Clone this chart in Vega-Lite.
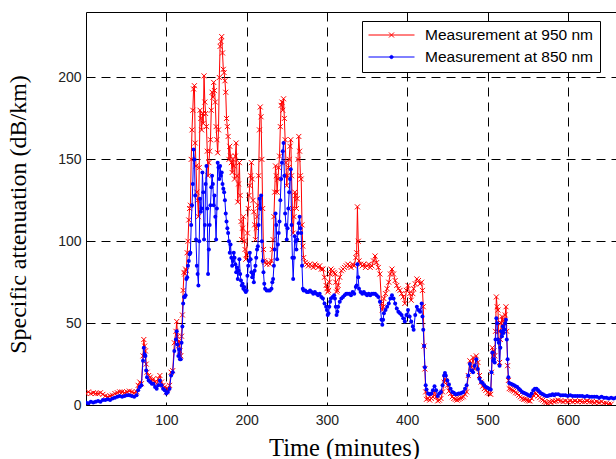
{
"$schema": "https://vega.github.io/schema/vega-lite/v6.json",
"width": 530, "height": 393,
"autosize": {"type": "none"},
"padding": {"left": 86, "top": 12, "right": 0, "bottom": 54},
"background": "white",
"config": {"view": {"stroke": "black", "strokeWidth": 1}},
"data": {"values": [
{"t":0,"r":7,"b":1.5},{"t":3,"r":8,"b":1},{"t":6,"r":7,"b":2},{"t":9,"r":7.5,"b":1.5},{"t":12,"r":7,"b":2},{"t":15,"r":7,"b":2.5},{"t":18,"r":7.5,"b":2},{"t":21,"r":6.5,"b":3},{"t":24,"r":5.5,"b":3},{"t":27,"r":5,"b":3.5},{"t":30,"r":5.5,"b":3},{"t":33,"r":6,"b":4},{"t":36,"r":7,"b":4.5},{"t":39,"r":7.5,"b":5},{"t":42,"r":8,"b":5.5},{"t":45,"r":8,"b":5},{"t":48,"r":7.5,"b":5.5},{"t":51,"r":8,"b":6},{"t":54,"r":8.5,"b":6},{"t":57,"r":8,"b":5.5},{"t":60,"r":7.5,"b":5},{"t":63,"r":8,"b":6},
{"t":65,"r":12,"b":9},{"t":67,"r":14,"b":11},{"t":69,"r":13,"b":12},{"t":71,"r":30,"b":27},{"t":72,"r":40,"b":35},{"t":73,"r":36,"b":31},{"t":74,"r":33,"b":30},{"t":75,"r":25,"b":21},{"t":76,"r":20,"b":17},{"t":78,"r":18,"b":15},{"t":80,"r":17,"b":14},{"t":82,"r":15,"b":13},{"t":84,"r":16,"b":13},{"t":86,"r":14,"b":11},{"t":88,"r":13,"b":10},{"t":90,"r":16,"b":12},{"t":92,"r":18,"b":15},{"t":94,"r":14,"b":12},{"t":96,"r":12,"b":10},{"t":98,"r":11,"b":9},{"t":100,"r":8,"b":7},{"t":102,"r":10,"b":8},{"t":104,"r":12,"b":10},{"t":106,"r":20,"b":18},{"t":108,"r":21,"b":20},{"t":110,"r":38,"b":33},{"t":112,"r":45,"b":40},{"t":113,"r":51,"b":45},{"t":114,"r":42,"b":37},{"t":115,"r":36,"b":30},{"t":116,"r":39,"b":34},{"t":117,"r":33,"b":28},{"t":118,"r":30,"b":28},{"t":119,"r":42,"b":38},
{"t":120,"r":55,"b":48},{"t":121,"r":70,"b":62},{"t":122,"r":81,"b":66},{"t":123,"r":80,"b":66},{"t":124,"r":83,"b":67},{"t":125,"r":82,"b":77},{"t":126,"r":93,"b":78},{"t":127,"r":100,"b":85},{"t":128,"r":113,"b":88},{"t":129,"r":120,"b":92},{"t":130,"r":122,"b":93},{"t":131,"r":150,"b":110},{"t":132,"r":168,"b":122},{"t":133,"r":180,"b":135},{"t":134,"r":193,"b":156},{"t":135,"r":195,"b":150},{"t":136,"r":160,"b":128},{"t":137,"r":146,"b":101},{"t":138,"r":130,"b":85},{"t":139,"r":125,"b":80},{"t":140,"r":115,"b":73},{"t":141,"r":145,"b":100},{"t":142,"r":180,"b":126},{"t":143,"r":175,"b":118},{"t":144,"r":168,"b":120},{"t":145,"r":178,"b":142},{"t":146,"r":172,"b":130},{"t":147,"r":201,"b":101},{"t":148,"r":185,"b":110},{"t":149,"r":178,"b":135},{"t":150,"r":170,"b":146},{"t":151,"r":155,"b":120},{"t":152,"r":140,"b":80},{"t":153,"r":148,"b":95},{"t":154,"r":155,"b":110},{"t":155,"r":162,"b":122},{"t":156,"r":180,"b":133},{"t":157,"r":191,"b":140},{"t":158,"r":188,"b":135},{"t":159,"r":197,"b":122},{"t":160,"r":192,"b":128},{"t":161,"r":185,"b":115},{"t":162,"r":170,"b":101},{"t":163,"r":162,"b":120},{"t":164,"r":154,"b":148},{"t":165,"r":168,"b":145},{"t":166,"r":200,"b":138},{"t":167,"r":219,"b":146},{"t":168,"r":222,"b":140},{"t":169,"r":225,"b":142},{"t":170,"r":215,"b":135},{"t":171,"r":205,"b":132},{"t":172,"r":203,"b":130},{"t":173,"r":198,"b":125},{"t":174,"r":191,"b":117},{"t":175,"r":175,"b":112},{"t":176,"r":170,"b":108},{"t":177,"r":164,"b":105},{"t":178,"r":150,"b":100},{"t":179,"r":158,"b":93},{"t":180,"r":152,"b":98},{"t":181,"r":148,"b":90},{"t":182,"r":142,"b":85},{"t":183,"r":150,"b":88},{"t":184,"r":146,"b":93},{"t":185,"r":138,"b":90},{"t":186,"r":152,"b":86},{"t":187,"r":160,"b":81},{"t":188,"r":140,"b":84},{"t":189,"r":124,"b":77},{"t":190,"r":135,"b":82},{"t":191,"r":148,"b":89},{"t":192,"r":128,"b":80},{"t":193,"r":112,"b":76},{"t":194,"r":101,"b":73},{"t":195,"r":108,"b":74},{"t":196,"r":115,"b":71},{"t":197,"r":100,"b":72},{"t":198,"r":95,"b":70},{"t":199,"r":89,"b":69},
{"t":200,"r":92,"b":70},{"t":201,"r":105,"b":79},{"t":202,"r":120,"b":85},{"t":203,"r":128,"b":88},{"t":204,"r":134,"b":93},{"t":205,"r":140,"b":89},{"t":206,"r":148,"b":81},{"t":207,"r":138,"b":78},{"t":208,"r":125,"b":80},{"t":209,"r":118,"b":75},{"t":210,"r":110,"b":82},{"t":211,"r":101,"b":85},{"t":212,"r":108,"b":90},{"t":213,"r":115,"b":95},{"t":214,"r":122,"b":97},{"t":215,"r":140,"b":110},{"t":216,"r":168,"b":126},{"t":217,"r":182,"b":120},{"t":218,"r":176,"b":128},{"t":219,"r":150,"b":100},{"t":220,"r":120,"b":88},{"t":221,"r":95,"b":81},{"t":222,"r":88,"b":74},{"t":223,"r":87,"b":71},{"t":225,"r":86,"b":70},{"t":227,"r":87,"b":70},{"t":229,"r":86,"b":70},{"t":231,"r":88,"b":71},{"t":232,"r":95,"b":75},{"t":233,"r":101,"b":77},{"t":234,"r":115,"b":85},{"t":235,"r":130,"b":95},{"t":236,"r":146,"b":117},{"t":237,"r":140,"b":110},{"t":238,"r":130,"b":89},{"t":239,"r":138,"b":98},{"t":240,"r":145,"b":105},{"t":241,"r":152,"b":112},{"t":242,"r":170,"b":125},{"t":243,"r":183,"b":138},{"t":244,"r":185,"b":148},{"t":245,"r":180,"b":155},{"t":246,"r":187,"b":160},{"t":247,"r":175,"b":140},{"t":248,"r":162,"b":117},{"t":249,"r":148,"b":110},{"t":250,"r":134,"b":101},{"t":251,"r":140,"b":108},{"t":252,"r":145,"b":120},{"t":253,"r":150,"b":130},{"t":254,"r":158,"b":138},{"t":255,"r":162,"b":144},{"t":256,"r":140,"b":110},{"t":257,"r":120,"b":90},{"t":258,"r":105,"b":77},{"t":259,"r":115,"b":90},{"t":260,"r":130,"b":103},{"t":261,"r":128,"b":100},{"t":262,"r":120,"b":95},{"t":263,"r":126,"b":101},{"t":264,"r":150,"b":105},{"t":265,"r":164,"b":111},{"t":266,"r":155,"b":115},{"t":267,"r":140,"b":108},{"t":268,"r":138,"b":105},{"t":269,"r":110,"b":85},{"t":270,"r":97,"b":71},{"t":271,"r":90,"b":70},{"t":273,"r":87,"b":70},{"t":275,"r":86,"b":69},{"t":277,"r":85,"b":69},{"t":279,"r":86,"b":70},{"t":281,"r":85,"b":69},{"t":283,"r":84,"b":68},{"t":285,"r":86,"b":69},{"t":287,"r":85,"b":68},{"t":289,"r":84,"b":67},{"t":291,"r":85,"b":68},{"t":293,"r":83,"b":66},{"t":295,"r":83,"b":65},{"t":297,"r":78,"b":62},{"t":299,"r":73,"b":60},
{"t":300,"r":71,"b":58},{"t":301,"r":69,"b":55},{"t":302,"r":70,"b":56},{"t":303,"r":75,"b":60},{"t":304,"r":80,"b":63},{"t":305,"r":83,"b":65},{"t":307,"r":82,"b":66},{"t":309,"r":81,"b":67},{"t":310,"r":80,"b":65},{"t":311,"r":75,"b":60},{"t":312,"r":69,"b":55},{"t":313,"r":70,"b":57},{"t":314,"r":73,"b":60},{"t":316,"r":78,"b":63},{"t":318,"r":82,"b":65},{"t":320,"r":83,"b":66},{"t":322,"r":84,"b":67},{"t":324,"r":85,"b":68},{"t":326,"r":86,"b":68},{"t":328,"r":85,"b":68},{"t":330,"r":84,"b":67},{"t":332,"r":86,"b":69},{"t":334,"r":85,"b":68},{"t":336,"r":90,"b":72},{"t":337,"r":93,"b":73},{"t":338,"r":121,"b":86},{"t":339,"r":100,"b":78},{"t":340,"r":88,"b":71},{"t":342,"r":86,"b":69},{"t":344,"r":85,"b":68},{"t":346,"r":86,"b":69},{"t":348,"r":84,"b":68},{"t":350,"r":85,"b":67},{"t":352,"r":86,"b":68},{"t":354,"r":84,"b":67},{"t":356,"r":85,"b":68},{"t":358,"r":88,"b":68},{"t":360,"r":91,"b":68},{"t":362,"r":87,"b":67},{"t":364,"r":84,"b":66},{"t":366,"r":80,"b":63},{"t":368,"r":62,"b":52},{"t":369,"r":58,"b":49},{"t":370,"r":60,"b":52},{"t":371,"r":65,"b":56},{"t":373,"r":68,"b":58},{"t":375,"r":71,"b":60},{"t":377,"r":75,"b":62},{"t":379,"r":80,"b":65},{"t":381,"r":83,"b":67},{"t":383,"r":80,"b":65},{"t":385,"r":76,"b":62},{"t":387,"r":73,"b":59},{"t":389,"r":71,"b":57},{"t":391,"r":70,"b":56},{"t":393,"r":68,"b":55},{"t":395,"r":66,"b":53},{"t":397,"r":62,"b":51},{"t":399,"r":70,"b":55},
{"t":401,"r":73,"b":58},{"t":403,"r":68,"b":54},{"t":405,"r":64,"b":51},{"t":407,"r":68,"b":48},{"t":408,"r":71,"b":46},{"t":410,"r":74,"b":55},{"t":412,"r":77,"b":60},{"t":414,"r":76,"b":58},{"t":416,"r":74,"b":57},{"t":418,"r":75,"b":62},{"t":419,"r":70,"b":54},{"t":420,"r":60,"b":46},{"t":421,"r":36,"b":36},{"t":422,"r":22,"b":23},{"t":423,"r":8,"b":12},{"t":424,"r":3.5,"b":9.5},{"t":426,"r":4,"b":7},{"t":428,"r":3,"b":6.5},{"t":430,"r":4,"b":7},{"t":432,"r":5,"b":9},{"t":434,"r":8,"b":11.5},{"t":436,"r":5,"b":9},{"t":438,"r":2.5,"b":5.5},{"t":440,"r":3,"b":7},{"t":442,"r":4,"b":8},{"t":444,"r":8,"b":12},{"t":446,"r":14,"b":18},{"t":447,"r":16,"b":19.5},{"t":448,"r":15,"b":18},{"t":450,"r":12,"b":15},{"t":452,"r":8.5,"b":12.5},{"t":454,"r":7,"b":10},{"t":456,"r":5,"b":8},{"t":458,"r":4,"b":7.5},{"t":460,"r":3.5,"b":6.5},{"t":462,"r":3,"b":6.5},{"t":464,"r":3.5,"b":7},{"t":466,"r":4,"b":7},{"t":468,"r":4.5,"b":7.5},{"t":470,"r":5,"b":8},{"t":472,"r":6.5,"b":10},{"t":474,"r":8,"b":12},{"t":476,"r":18,"b":18},{"t":478,"r":27,"b":25},{"t":480,"r":23,"b":21},{"t":482,"r":29,"b":20},{"t":484,"r":22,"b":24},{"t":486,"r":30,"b":28},{"t":488,"r":26,"b":22},{"t":490,"r":18,"b":16},{"t":492,"r":14,"b":14},{"t":494,"r":11.5,"b":13.5},{"t":496,"r":10,"b":12},{"t":498,"r":9,"b":11},
{"t":500,"r":7.5,"b":10.5},{"t":502,"r":7,"b":10},{"t":504,"r":6.5,"b":9.5},{"t":505,"r":20,"b":20},{"t":506,"r":35,"b":32},{"t":507,"r":30,"b":27},{"t":508,"r":33,"b":28},{"t":509,"r":30,"b":26},{"t":510,"r":45,"b":40},{"t":511,"r":66,"b":53},{"t":512,"r":60,"b":50},{"t":513,"r":58,"b":40},{"t":514,"r":45,"b":38},{"t":515,"r":26,"b":24},{"t":516,"r":40,"b":35},{"t":517,"r":50,"b":45},{"t":518,"r":54,"b":42},{"t":519,"r":52,"b":48},{"t":520,"r":48,"b":44},{"t":521,"r":50,"b":46},{"t":522,"r":55,"b":50},{"t":523,"r":60,"b":52},{"t":524,"r":45,"b":40},{"t":525,"r":24,"b":28},{"t":526,"r":15,"b":17},{"t":527,"r":10,"b":13.5},{"t":529,"r":9.5,"b":13},{"t":531,"r":9,"b":12.5},{"t":533,"r":8.5,"b":12},{"t":535,"r":7.5,"b":11.5},{"t":537,"r":7,"b":11},{"t":539,"r":6,"b":10},{"t":541,"r":5,"b":9},{"t":543,"r":4,"b":8},{"t":545,"r":3.5,"b":7.5},{"t":547,"r":3.5,"b":7},{"t":549,"r":3,"b":6.5},{"t":551,"r":2.5,"b":6},{"t":553,"r":2.5,"b":5.5},{"t":555,"r":4,"b":7},{"t":557,"r":6,"b":9},{"t":559,"r":7.5,"b":10},{"t":561,"r":7,"b":10},{"t":563,"r":5.5,"b":9},{"t":565,"r":4.5,"b":8},{"t":567,"r":3.5,"b":7},{"t":569,"r":3,"b":6.5},{"t":571,"r":2,"b":6},{"t":573,"r":1.5,"b":5.5},{"t":575,"r":1,"b":5.5},{"t":577,"r":2,"b":6},{"t":579,"r":1.5,"b":6},{"t":581,"r":2.5,"b":6.5},{"t":583,"r":2,"b":6},{"t":585,"r":2.5,"b":6.5},{"t":588,"r":3,"b":6.5},{"t":591,"r":2.5,"b":6},{"t":594,"r":2,"b":6},{"t":597,"r":2.5,"b":6},
{"t":600,"r":2,"b":5.5},{"t":603,"r":2.5,"b":6},{"t":606,"r":2,"b":5.5},{"t":609,"r":2.5,"b":5.5},{"t":612,"r":2,"b":5.5},{"t":615,"r":2.5,"b":5.5},{"t":618,"r":2,"b":5.5},{"t":621,"r":2,"b":5},{"t":624,"r":2.5,"b":5.5},{"t":627,"r":2,"b":5},{"t":630,"r":2,"b":5},{"t":633,"r":1.5,"b":5},{"t":636,"r":2,"b":5},{"t":639,"r":1.5,"b":4.5},{"t":642,"r":2,"b":5},{"t":645,"r":1,"b":4.5},{"t":648,"r":1,"b":4.5},{"t":651,"r":0.5,"b":4},{"t":654,"r":0.5,"b":4.5},{"t":657,"r":null,"b":4},{"t":660,"r":null,"b":4.5}
]},
"transform": [{"fold": ["r", "b"], "as": ["key", "v"]}, {"filter": "datum.v != null"}],
"encoding": {
  "x": {"field": "t", "type": "quantitative",
    "scale": {"domain": [0, 660], "nice": false, "zero": false},
    "axis": {"values": [100, 200, 300, 400, 500, 600], "grid": true, "gridDash": [9, 6], "gridColor": "black", "gridOpacity": 1, "gridWidth": 1,
      "domain": false, "ticks": false, "labelPadding": 8, "labelFont": "Liberation Sans", "labelFontSize": 14, "labelColor": "#222",
      "title": "Time (minutes)", "titleFont": "Liberation Serif", "titleFontSize": 24.5, "titleFontWeight": "normal", "titleColor": "black",
      "titleX": 258, "titleY": 50, "titleBaseline": "alphabetic", "titleAlign": "center", "titleAnchor": null}},
  "y": {"field": "v", "type": "quantitative",
    "scale": {"domain": [0, 240], "nice": false},
    "axis": {"values": [0, 50, 100, 150, 200], "grid": true, "gridDash": [9, 6], "gridColor": "black", "gridOpacity": 1, "gridWidth": 1,
      "domain": false, "ticks": false, "labelPadding": 5, "labelFont": "Liberation Sans", "labelFontSize": 14, "labelColor": "#222",
      "title": "Specific attenuation (dB/km)", "titleFont": "Liberation Serif", "titleFontSize": 24, "titleFontWeight": "normal", "titleColor": "black",
      "titleX": -61, "titleY": 202, "titleBaseline": "alphabetic", "titleAlign": "center", "titleAngle": -90, "titleAnchor": null}}
},
"layer": [
  {"transform": [{"filter": "datum.key == 'r'"}],
   "mark": {"type": "line", "strokeWidth": 1, "clip": true},
   "encoding": {"color": {"field": "key", "type": "nominal",
     "scale": {"domain": ["r", "b"], "range": ["#ff0000", "#0000ff"]},
     "legend": {"title": null, "orient": "none", "legendX": 276, "legendY": 9, "direction": "vertical",
       "labelExpr": "datum.value == 'r' ? 'Measurement at 950 nm' : 'Measurement at 850 nm'",
       "labelFont": "Liberation Sans", "labelFontSize": 15.5, "labelColor": "black", "labelLimit": 400,
       "symbolType": "M-1,0L1,0", "symbolSize": 2116, "symbolStrokeWidth": 1,
       "labelOffset": 10, "padding": 6, "rowPadding": 5, "clipHeight": 16,
       "strokeColor": "black", "fillColor": "white",
       "encode": {"symbols": {"update": {
         "shape": {"signal": "datum.value == 'r' ? 'M-1,0L1,0M-0.11,-0.11L0.11,0.11M-0.11,0.11L0.11,-0.11' : 'M-1,0L1,0M0.07,0A0.07,0.07 0 1 1 -0.07,0A0.07,0.07 0 1 1 0.07,0Z'"},
         "fill": {"signal": "datum.value == 'r' ? 'transparent' : '#0000ff'"}}}}}}}},
  {"transform": [{"filter": "datum.key == 'r'"}],
   "mark": {"type": "point", "shape": "M-1,-1L1,1M-1,1L1,-1", "size": 25, "filled": false, "strokeWidth": 1, "color": "#ff0000", "opacity": 1, "clip": true}},
  {"transform": [{"filter": "datum.key == 'b'"}],
   "mark": {"type": "line", "strokeWidth": 1, "clip": true},
   "encoding": {"color": {"field": "key", "type": "nominal",
     "scale": {"domain": ["r", "b"], "range": ["#ff0000", "#0000ff"]},
     "legend": {"title": null, "orient": "none", "legendX": 276, "legendY": 9, "direction": "vertical",
       "labelExpr": "datum.value == 'r' ? 'Measurement at 950 nm' : 'Measurement at 850 nm'",
       "labelFont": "Liberation Sans", "labelFontSize": 15.5, "labelColor": "black", "labelLimit": 400,
       "symbolType": "M-1,0L1,0", "symbolSize": 2116, "symbolStrokeWidth": 1,
       "labelOffset": 10, "padding": 6, "rowPadding": 5, "clipHeight": 16,
       "strokeColor": "black", "fillColor": "white",
       "encode": {"symbols": {"update": {
         "shape": {"signal": "datum.value == 'r' ? 'M-1,0L1,0M-0.11,-0.11L0.11,0.11M-0.11,0.11L0.11,-0.11' : 'M-1,0L1,0M0.07,0A0.07,0.07 0 1 1 -0.07,0A0.07,0.07 0 1 1 0.07,0Z'"},
         "fill": {"signal": "datum.value == 'r' ? 'transparent' : '#0000ff'"}}}}}}}},
  {"transform": [{"filter": "datum.key == 'b'"}],
   "mark": {"type": "point", "shape": "circle", "size": 16, "filled": true, "color": "#0000ff", "opacity": 1, "clip": true}}
]
}
